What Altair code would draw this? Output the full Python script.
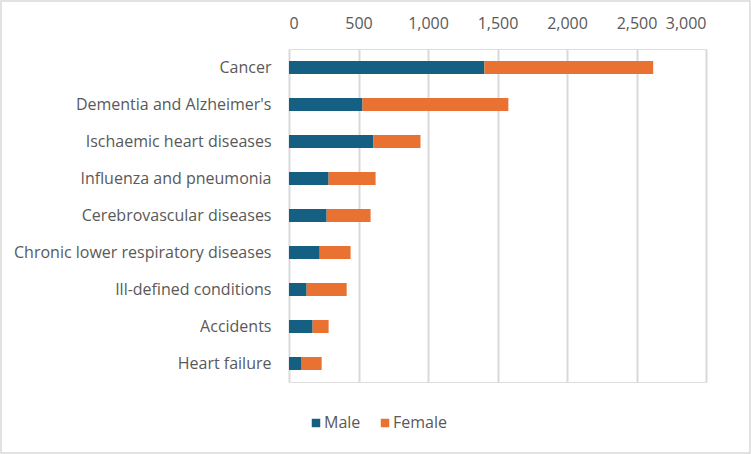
import altair as alt
import pandas as pd

# Deaths by leading cause, split by sex
causes = [
    "Cancer",
    "Dementia and Alzheimer's",
    "Ischaemic heart diseases",
    "Influenza and pneumonia",
    "Cerebrovascular diseases",
    "Chronic lower respiratory diseases",
    "Ill-defined conditions",
    "Accidents",
    "Heart failure",
]
male = [1406, 529, 608, 285, 271, 221, 127, 170, 91]
female = [1214, 1049, 338, 338, 316, 222, 288, 115, 144]
sexes = ["Male", "Female"]
colors = ["#156082", "#E97132"]

rows = []
for c, m, f in zip(causes, male, female):
    rows.append({"cause": c, "sex": "Male", "value": m, "ord": 0})
    rows.append({"cause": c, "sex": "Female", "value": f, "ord": 1})
df = pd.DataFrame(rows)

FONT = "Open Sans"
TXT = "#595959"
GRID = "#d9d9d9"
FS = 16

bars = alt.Chart(df).mark_bar(size=13).encode(
    y=alt.Y("cause:N", sort=causes, title=None,
            axis=alt.Axis(domain=False, ticks=False, labelPadding=18,
                          labelFontSize=FS, labelColor=TXT, labelFont=FONT,
                          labelLimit=300)),
    x=alt.X("value:Q", stack="zero", title=None,
            scale=alt.Scale(domain=[0, 3000], nice=False),
            axis=alt.Axis(orient="top", values=[0, 500, 1000, 1500, 2000, 2500, 3000],
                          format=",d", domain=False, ticks=False, grid=True,
                          gridColor=GRID, gridWidth=2, labelPadding=18,
                          labelFontSize=FS, labelColor=TXT, labelFont=FONT)),
    color=alt.Color("sex:N", sort=sexes,
                    scale=alt.Scale(domain=sexes, range=colors),
                    legend=alt.Legend(title=None, orient="none", direction="horizontal",
                                      legendX=19, legendY=366, symbolType="square",
                                      symbolSize=72, symbolStrokeWidth=0,
                                      labelFontSize=FS, labelColor=TXT, labelFont=FONT,
                                      columnPadding=16, labelOffset=0)),
    order=alt.Order("ord:Q"),
)

# Outer chart frame
frame = alt.Chart(pd.DataFrame({"v": [0]})).mark_rect(
    fill=None, stroke=GRID, strokeWidth=1.5, clip=False
).encode(
    x=alt.value(-288), x2=alt.value(461),
    y=alt.value(-48), y2=alt.value(404),
)

chart = alt.layer(bars, frame).properties(
    width=417, height=333,
    autosize=alt.AutoSizeParams(type="none"),
    padding={"left": 289, "top": 49, "right": 45, "bottom": 72},
).configure_view(stroke=None).configure(background="white")

chart.save("out.html", embed_options={"renderer": "svg", "actions": False})
